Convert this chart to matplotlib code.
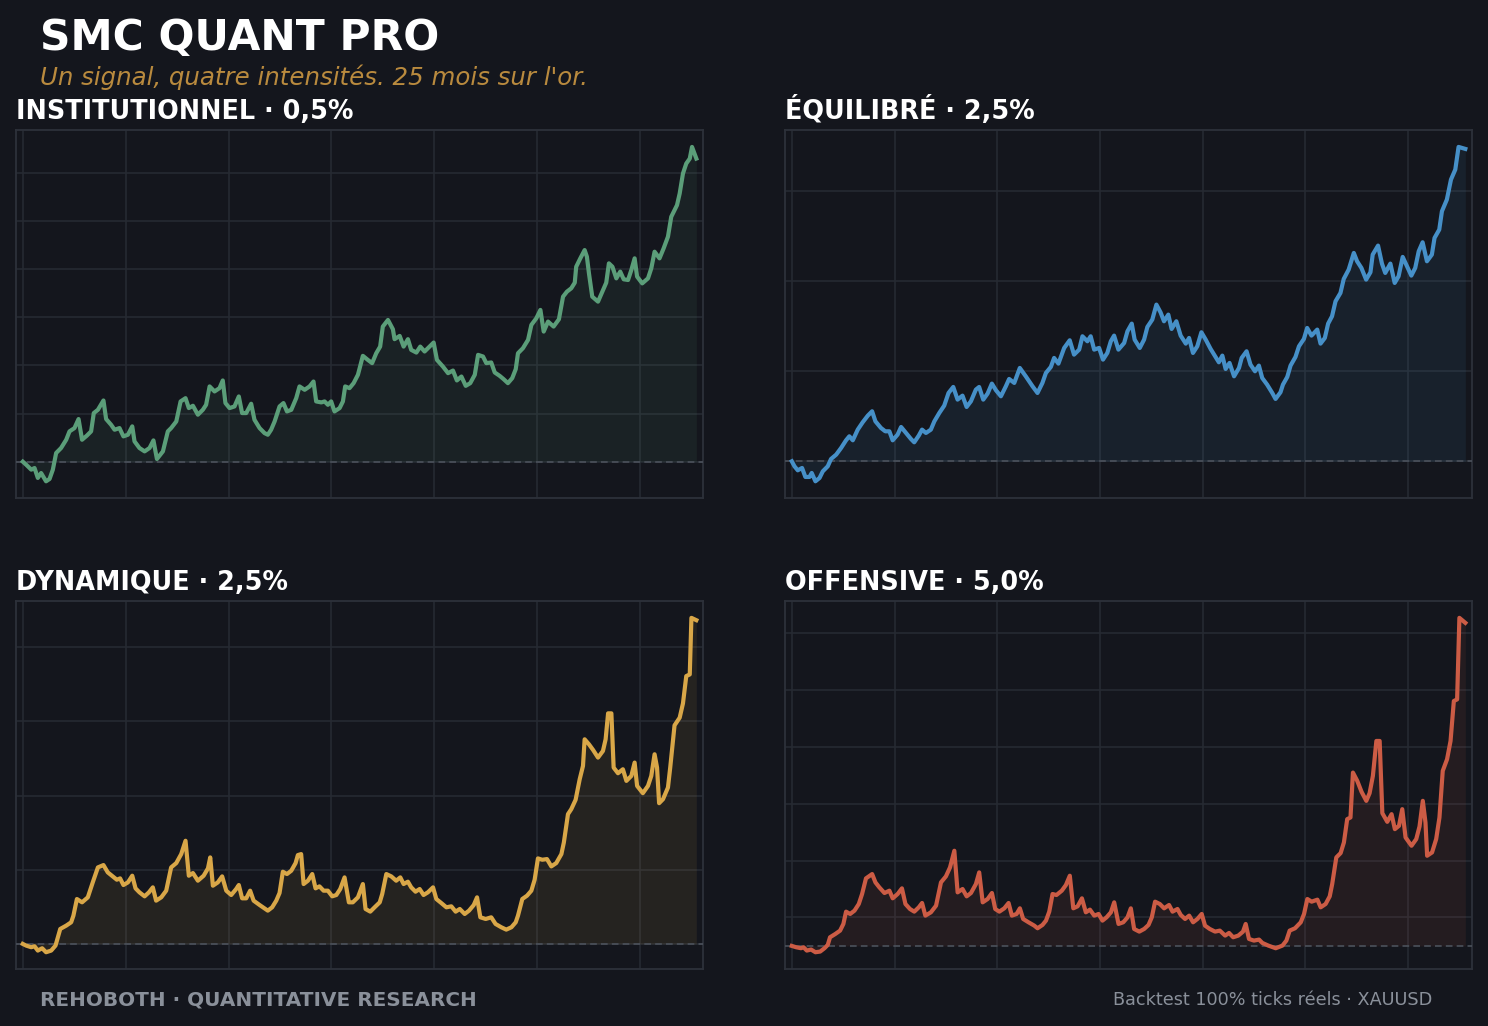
"""SMC QUANT PRO: one signal, four risk levels, equity curves on gold (XAUUSD)."""

import matplotlib

matplotlib.use("Agg")
import matplotlib.pyplot as plt
from matplotlib.ticker import MultipleLocator, NullFormatter

OUT = "out.png"

BG = "#14161d"
GRID = "#262a32"
SPINE = "#2d313a"
ZERO = "#4b515b"
MUTED = "#8a909a"

START = 10000  # starting capital; dashed reference line

# trade index / equity ($)
INST_X = [0, 1.6, 4.1, 5.7, 7.3, 8.9, 11.3, 13.0, 14.6, 16.2, 18.6, 21.1, 22.7, 25.1,
          27.1, 28.8, 31.1, 33.2, 34.5, 36.5, 39.2, 40.5, 42.9, 44.6, 47.0, 48.9, 51.1,
          53.2, 54.3, 56.7, 59.2, 61.6, 63.5, 65.2, 68.1, 70.5, 72.1, 74.6, 76.7, 79.1,
          80.7, 82.7, 85.1, 87.5, 89.1, 90.8, 93.2, 95.6, 97.2, 98.5, 100.5, 102.9, 105.0,
          106.6, 108.6, 111.0, 112.6, 115.1, 117.5, 119.1, 120.7, 122.4, 124.8, 126.7,
          128.4, 130.5, 132.9, 134.5, 137.0, 139.4, 141.3, 142.6, 145.1, 146.7, 148.3,
          149.9, 151.5, 154.0, 155.6, 156.7, 158.8, 160.8, 162.9, 165.3, 167.7, 169.8,
          171.8, 173.7, 175.0, 177.5, 179.9, 180.7, 183.2, 185.1, 187.2, 188.8, 191.3,
          193.2, 195.3, 197.7, 199.7, 201.3, 204.2, 206.7, 209.1, 211.0, 213.2, 215.3,
          217.5, 219.7, 221.3, 223.7, 225.3, 227.7, 229.4, 231.8, 233.7, 235.8, 237.9,
          239.6, 240.7, 243.1, 245.6, 247.2, 249.6, 251.6, 253.2, 255.3, 258.0, 260.6,
          262.6, 264.5, 266.6, 268.3, 269.0, 271.0, 273.1, 274.2, 275.2, 276.8, 279.6,
          281.7, 283.6, 284.9, 286.6, 288.5, 290.4, 292.1, 294.2, 295.8, 297.4, 298.6,
          301.1, 303.9, 305.5, 307.1, 309.5, 311.5, 313.6, 315.2, 318.0, 319.3, 320.9,
          322.5, 324.2, 325.3, 327.4]
INST_Y = [10000, 9969, 9917, 9934, 9831, 9882, 9796, 9820, 9917, 10090, 10142, 10228,
          10315, 10349, 10443, 10228, 10270, 10315, 10505, 10539, 10636, 10443, 10384,
          10332, 10349, 10263, 10280, 10367, 10211, 10142, 10107, 10142, 10221, 10028,
          10107, 10315, 10349, 10418, 10626, 10660, 10557, 10581, 10488, 10539, 10591,
          10782, 10730, 10764, 10844, 10609, 10557, 10574, 10678, 10505, 10505, 10602,
          10436, 10349, 10297, 10280, 10332, 10418, 10574, 10609, 10522, 10539, 10660,
          10782, 10747, 10782, 10833, 10626, 10616, 10626, 10591, 10626, 10522, 10557,
          10626, 10782, 10764, 10816, 10903, 11100, 11058, 11024, 11127, 11196, 11404,
          11473, 11376, 11273, 11307, 11196, 11273, 11162, 11134, 11196, 11145, 11196,
          11238, 11058, 10989, 10920, 10947, 10844, 10885, 10788, 10816, 10903, 11110,
          11093, 11024, 11031, 10927, 10892, 10858, 10816, 10868, 10961, 11127, 11179,
          11266, 11421, 11490, 11577, 11352, 11456, 11404, 11480, 11715, 11767, 11802,
          11860, 12026, 12113, 12199, 12130, 11957, 11715, 11663, 11767, 11860, 12061,
          12026, 11905, 11975, 11895, 11888, 11992, 12113, 11923, 11853, 11905, 12009,
          12182, 12113, 12217, 12338, 12545, 12666, 12787, 12995, 13098, 13150, 13271,
          13150]

EQUI_X = [0, 1.3, 2.9, 5.0, 6.6, 8.6, 9.7, 11.5, 13.5, 15.1, 17.5, 19.1, 21.6, 24.0,
          26.4, 28.0, 29.7, 32.1, 34.5, 37.0, 39.1, 40.7, 43.4, 45.5, 47.5, 49.1, 51.5,
          53.2, 55.6, 58.0, 59.6, 61.8, 63.4, 65.3, 67.7, 69.4, 71.8, 74.2, 76.3, 78.6,
          80.7, 83.1, 85.1, 87.2, 89.6, 91.2, 93.2, 95.3, 97.4, 99.4, 101.8, 104.2, 105.8,
          108.3, 111.0, 113.9, 117.2, 119.6, 122.0, 123.7, 126.1, 127.7, 129.8, 132.6,
          135.3, 137.4, 139.9, 141.5, 143.9, 145.5, 147.2, 149.6, 151.5, 153.6, 155.3,
          156.9, 159.0, 161.8, 163.4, 165.5, 166.9, 169.4, 171.5, 173.1, 175.5, 177.5,
          179.5, 181.2, 183.3, 184.9, 187.2, 189.3, 191.8, 193.4, 195.3, 197.4, 199.4,
          201.5, 203.9, 206.3, 207.9, 209.6, 211.2, 213.1, 215.3, 217.7, 219.0, 221.4,
          223.3, 225.5, 227.4, 229.0, 231.4, 233.9, 235.5, 237.9, 239.1, 241.2, 242.8,
          245.2, 246.9, 249.3, 250.9, 253.0, 255.8, 257.4, 259.5, 261.1, 263.0, 264.7,
          267.1, 268.7, 271.1, 273.6, 275.2, 277.3, 279.6, 281.7, 282.8, 285.4, 287.3,
          288.9, 291.4, 293.5, 295.4, 297.4, 299.5, 301.6, 303.5, 305.2, 307.1, 309.2,
          311.6, 312.9, 315.2, 316.5, 318.9, 320.9, 323.0, 324.6, 327.9]
EQUI_Y = [10000, 9444, 9000, 9259, 8259, 8259, 8704, 7778, 8148, 8889, 9444, 10259,
          10741, 11482, 12333, 12778, 12333, 13519, 14333, 15074, 15556, 14444, 13704,
          13333, 13333, 12333, 12963, 13815, 13148, 12482, 12111, 12852, 13519, 13148,
          13519, 14444, 15370, 16185, 17593, 18259, 16852, 17296, 16037, 16667, 17963,
          18259, 16852, 17519, 18630, 17889, 17222, 18333, 19148, 18704, 20370, 19444,
          18333, 17593, 18704, 19815, 20482, 21482, 20852, 22593, 23444, 21852, 22407,
          23889, 23333, 23889, 22407, 22593, 21296, 22037, 23333, 23963, 22407, 23148,
          24444, 25296, 23519, 22593, 23519, 24926, 25741, 27407, 26556, 25556, 26296,
          24704, 25556, 23963, 23074, 23704, 22037, 22778, 24333, 23519, 22481, 21593,
          21000, 21741, 20259, 20926, 19444, 20370, 21482, 22222, 20741, 20000, 20630,
          19259, 18519, 17593, 16926, 17667, 18519, 19370, 20630, 21593, 22778, 23593,
          24815, 23963, 24630, 23074, 23704, 25296, 26111, 27778, 28704, 30259, 31296,
          33148, 32222, 31482, 30185, 31000, 32963, 33963, 31963, 30926, 31963, 29815,
          30556, 32704, 31667, 30630, 31482, 33333, 34333, 32222, 32963, 34815, 35741,
          37778, 39074, 41296, 42407, 44926, 44704]

DYNA_X = [0, 1.6, 4.1, 5.7, 7.3, 9.4, 11.3, 13.8, 15.9, 18.2, 21.1, 23.5, 24.6, 26.3,
          28.8, 31.6, 34.0, 36.5, 39.2, 41.3, 43.7, 45.7, 47.3, 48.9, 51.1, 53.2, 54.8,
          56.7, 59.2, 61.3, 63.2, 64.8, 67.3, 69.7, 72.1, 74.6, 77.0, 79.1, 80.7, 82.7,
          85.1, 87.9, 90.0, 91.1, 92.4, 94.8, 96.9, 98.9, 101.3, 103.7, 105.0, 106.6,
          108.6, 110.5, 112.2, 115.1, 117.5, 119.1, 121.2, 123.2, 124.8, 126.4, 128.4,
          130.5, 132.6, 133.7, 135.3, 136.5, 138.6, 140.7, 142.3, 144.2, 146.2, 148.3,
          150.4, 152.4, 154.3, 156.4, 158.5, 160.4, 162.9, 165.3, 166.6, 168.9, 171.0,
          173.5, 174.7, 176.7, 179.1, 181.5, 183.5, 185.1, 187.2, 188.8, 190.9, 192.9,
          194.8, 196.9, 199.4, 201.0, 203.4, 205.9, 208.3, 210.4, 212.4, 214.8, 216.9,
          219.2, 220.8, 222.4, 225.0, 227.7, 229.8, 232.6, 235.0, 237.5, 239.6, 240.7,
          242.8, 245.1, 247.2, 248.8, 250.4, 252.5, 254.8, 256.9, 259.3, 261.8, 263.0,
          265.0, 266.6, 268.7, 270.7, 272.3, 273.1, 275.2, 277.2, 279.6, 282.0, 283.3,
          284.5, 286.1, 287.2, 289.3, 291.7, 293.4, 295.8, 297.4, 298.6, 301.4, 303.9,
          305.5, 307.1, 308.3, 309.3, 311.2, 313.6, 314.7, 316.8, 319.3, 320.9, 322.5,
          324.2, 325.0, 327.4]
DYNA_Y = [10000, 9776, 9552, 9686, 9103, 9417, 8879, 9103, 9776, 12018, 12466, 12915,
          13811, 16053, 15605, 16278, 18295, 20313, 20627, 19641, 19103, 18654, 18833,
          17937, 18295, 19192, 17489, 16951, 16412, 16951, 17623, 15829, 16278, 17175,
          20313, 20897, 22107, 23901, 19192, 19551, 18520, 19192, 20179, 21659, 17847,
          18295, 19103, 17175, 16592, 17399, 17937, 16143, 16143, 17175, 15829, 15246,
          14798, 14484, 14933, 15829, 16861, 19730, 19417, 19865, 20897, 21973, 22107,
          18071, 18520, 19417, 17489, 17758, 17175, 17175, 16412, 16592, 17399, 18968,
          15605, 15605, 16278, 18071, 14708, 14350, 14933, 15605, 16726, 19417, 19103,
          18520, 18968, 18071, 18385, 17623, 17040, 17399, 16592, 16951, 17623, 16053,
          15515, 14933, 15067, 14350, 14708, 14036, 14484, 15246, 16278, 13587, 13363,
          13587, 12690, 12242, 11928, 12242, 12915, 13811, 16053, 16502, 17175, 18654,
          21524, 21345, 21435, 20448, 20897, 22107, 23677, 27488, 28160, 29416, 32196,
          33989, 37577, 36904, 36142, 35110, 36007, 37577, 41074, 41074, 33765, 33003,
          33541, 31973, 32645, 34439, 31300, 30314, 31300, 32645, 35559, 33765, 28967,
          29506, 31076, 33765, 39460, 40491, 42419, 46096, 46321, 53944, 53630]

OFFE_X = [0, 2.1, 4.5, 5.7, 7.3, 9.4, 11.5, 13.8, 15.9, 17.5, 18.6, 21.2, 23.5, 25.1,
          26.4, 28.4, 30.5, 32.6, 34.2, 36.1, 39.1, 40.7, 42.6, 45.1, 47.5, 49.1, 51.5,
          53.6, 55.3, 57.5, 59.6, 61.8, 63.4, 65.0, 67.7, 70.2, 72.6, 75.0, 77.0, 79.1,
          80.7, 83.1, 85.1, 87.2, 89.6, 91.2, 92.9, 95.3, 97.4, 99.0, 101.0, 103.4, 105.5,
          107.1, 109.4, 111.0, 112.6, 115.2, 118.0, 119.6, 122.0, 123.7, 125.3, 126.9,
          128.8, 131.4, 133.4, 135.3, 137.0, 139.1, 141.2, 143.1, 145.1, 147.2, 149.3,
          151.2, 153.2, 155.3, 156.9, 159.0, 161.3, 163.4, 165.0, 166.6, 169.1, 171.5,
          173.6, 175.2, 176.8, 179.1, 181.2, 183.6, 185.3, 187.7, 189.3, 191.4, 193.4,
          195.3, 197.4, 199.5, 201.1, 203.4, 206.0, 208.3, 210.9, 212.8, 214.8, 217.3,
          219.6, 220.9, 222.5, 224.9, 227.4, 229.0, 231.9, 235.5, 238.8, 240.7, 242.3,
          244.9, 247.7, 249.3, 250.9, 253.0, 255.8, 257.4, 259.8, 261.8, 263.0, 265.0,
          267.1, 268.7, 270.3, 271.9, 273.1, 275.2, 277.3, 279.6, 281.2, 282.8, 284.5,
          286.1, 287.4, 289.8, 291.9, 293.5, 295.5, 297.1, 298.7, 301.6, 303.9, 305.5,
          307.1, 308.4, 309.2, 311.6, 313.6, 315.2, 316.8, 318.9, 320.6, 322.2, 323.8,
          324.9, 327.8]
OFFE_Y = [10000, 9532, 9181, 9532, 8362, 8713, 7777, 8011, 9181, 10351, 13042, 14212,
          15382, 17722, 22051, 21232, 22402, 24742, 28252, 33751, 35272, 32347, 30592,
          28603, 29422, 26731, 28252, 30241, 24742, 22987, 22051, 23572, 25093, 20647,
          21817, 24157, 32347, 34453, 37612, 43462, 28837, 30007, 27433, 28603, 31762,
          35857, 25327, 26497, 28603, 22987, 22051, 23221, 25093, 20647, 21232, 23221,
          19477, 18307, 17137, 16201, 17371, 18892, 22051, 28252, 27901, 29422, 31411,
          34687, 23221, 23923, 26731, 21817, 22753, 20647, 21232, 18892, 20062, 21817,
          25327, 17722, 18307, 20062, 23221, 15967, 15031, 15967, 17371, 20062, 25561,
          24742, 23221, 24391, 22051, 22987, 20881, 19477, 20647, 18307, 19477, 21232,
          17137, 15967, 15031, 15382, 13627, 14563, 13042, 13627, 15031, 17722, 12457,
          11872, 12223, 11053, 10117, 9181, 10117, 11872, 15382, 16201, 18307, 21232,
          26497, 25561, 26263, 23572, 24742, 27433, 31762, 41122, 42643, 46387, 54577,
          55162, 70957, 68032, 64171, 61012, 63703, 69787, 82072, 82072, 56683, 53641,
          56332, 51067, 52237, 58087, 48142, 45217, 47557, 52003, 61012, 53407, 41707,
          42877, 47557, 55162, 71542, 75637, 82072, 96112, 96697, 125362, 123607]

TITLES = ["INSTITUTIONNEL · 0,5%", "ÉQUILIBRÉ · 2,5%", "DYNAMIQUE · 2,5%", "OFFENSIVE · 5,0%"]
COLORS = ["#5b9e79", "#4690c8", "#d9a748", "#cc5c45"]
Y_STEPS = [500, 10000, 10000, 20000]
SERIES = [(INST_X, INST_Y), (EQUI_X, EQUI_Y), (DYNA_X, DYNA_Y), (OFFE_X, OFFE_Y)]

# axes rectangles in figure fractions (left, bottom, width, height)
W, H = 0.4617, 0.3585
POS = [(0.0108, 0.5146), (0.5276, 0.5146), (0.0108, 0.0556), (0.5276, 0.0556)]


def main():
    plt.rcParams.update({"font.family": "DejaVu Sans"})
    fig = plt.figure(figsize=(14.88, 10.26), dpi=100, facecolor=BG)

    for (xs, ys), title, col, step, (l, b) in zip(SERIES, TITLES, COLORS, Y_STEPS, POS):
        ax = fig.add_axes([l, b, W, H], facecolor=BG)
        ax.fill_between(xs, ys, START, color=col, alpha=0.09, lw=0, zorder=2)
        ax.plot(xs, ys, color=col, lw=3.0, solid_joinstyle="round", zorder=4)
        ax.axhline(START, color=ZERO, lw=1.2, ls=(0, (4, 2.5)), zorder=3)

        ax.margins(x=0.01, y=0.05)
        ax.xaxis.set_major_locator(MultipleLocator(50))
        ax.yaxis.set_major_locator(MultipleLocator(step))
        ax.xaxis.set_major_formatter(NullFormatter())
        ax.yaxis.set_major_formatter(NullFormatter())
        ax.tick_params(length=0)
        ax.grid(True, color=GRID, lw=1.2, zorder=0)
        ax.set_axisbelow(True)
        for s in ax.spines.values():
            s.set_color(SPINE)
            s.set_linewidth(1.3)
        ax.set_title(title, loc="left", color="white", fontsize=18.4,
                     fontweight="bold", pad=8)

    fig.text(0.0269, 0.963, "SMC QUANT PRO", color="white", fontsize=30.5,
             fontweight="bold", va="center")
    fig.text(0.0269, 0.925, "Un signal, quatre intensités. 25 mois sur l'or.",
             color="#b98a3e", fontsize=17.65, style="italic", va="center")
    fig.text(0.0269, 0.0253, "REHOBOTH · QUANTITATIVE RESEARCH", color=MUTED,
             fontsize=14.4, fontweight="bold", va="center")
    fig.text(0.9624, 0.0253, "Backtest 100% ticks réels · XAUUSD", color=MUTED,
             fontsize=12.7, ha="right", va="center")

    fig.savefig(OUT, dpi=100, facecolor=BG)


if __name__ == "__main__":
    main()
